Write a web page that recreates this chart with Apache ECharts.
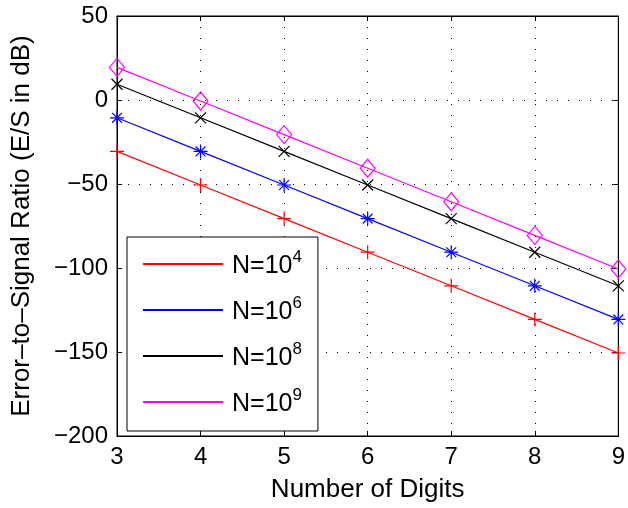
<!DOCTYPE html>
<html lang="en">
<head>
    <meta charset="utf-8">
    <title>Error-to-Signal Ratio</title>
    <script src="https://cdn.jsdelivr.net/npm/echarts@6/dist/echarts.min.js"></script>
    <style>
        html, body { margin: 0; padding: 0; background: #fff; }
    </style>
</head>
<body>
<div id="main" style="width: 628px;height:508px;"></div>
<script>
    // data
    var digits = [3, 4, 5, 6, 7, 8, 9];
    var n4 = [-30.6, -50.6, -70.6, -90.6, -110.6, -130.6, -150.6];
    var n6 = [-10.6, -30.6, -50.6, -70.6, -90.6, -110.6, -130.6];
    var n8 = [9.4, -10.6, -30.6, -50.6, -70.6, -90.6, -110.6];
    var n9 = [19.4, -0.6, -20.6, -40.6, -60.6, -80.6, -100.6];
    var exps = ['4', '6', '8', '9'];
    var colors = ['#ff0000', '#0000ff', '#000000', '#ff00ff'];

    var plus = 'path://M5,0L5,10M0,5L10,5';
    var star = 'path://M5,0L5,10M0,5L10,5M1.5,1.5L8.5,8.5M1.5,8.5L8.5,1.5';
    var cross = 'path://M0,0L10,10M0,10L10,0';
    var diamond = 'path://M5,0L10,5L5,10L0,5Z';

    var font = 'Liberation Sans, Arial, sans-serif';
    var myChart = echarts.init(document.getElementById('main'));

    function mkSeries(i, vals, sym, size) {
        return {
            name: 'N' + exps[i],
            type: 'line',
            data: digits.map(function (d, k) { return [d, vals[k]]; }),
            symbol: sym,
            symbolSize: size,
            lineStyle: {color: colors[i], width: 1.2},
            itemStyle: {color: 'none', borderColor: colors[i], borderWidth: 1.2},
            emphasis: {disabled: true},
            z: 3
        };
    }

    // matlab style dotted grid
    var dotted = {show: true, lineStyle: {color: '#000', type: [1, 10], width: 1}};
    var tick = {inside: true, length: 5, lineStyle: {color: '#000'}};
    var line = {onZero: false, lineStyle: {color: '#000', width: 1}};

    var option = {
        animation: false,
        grid: {left: 117, right: 4, top: 16, bottom: 70, show: true, borderColor: '#000', borderWidth: 1},
        xAxis: [{
            type: 'value', min: 3, max: 9, interval: 1,
            name: 'Number of Digits', nameLocation: 'middle', nameGap: 41,
            nameTextStyle: {fontFamily: font, fontSize: 26, color: '#000'},
            axisLine: line,
            axisTick: tick,
            axisLabel: {fontFamily: font, fontSize: 24, color: '#000', margin: 9},
            splitLine: dotted
        }, {
            type: 'value', min: 3, max: 9, interval: 1, position: 'top',
            axisLine: line, axisTick: tick,
            axisLabel: {show: false}, splitLine: {show: false}
        }],
        yAxis: [{
            type: 'value', min: -200, max: 50, interval: 50,
            name: 'Error\u2013to\u2013Signal Ratio (E/S in dB)', nameLocation: 'middle', nameGap: 82,
            nameTextStyle: {fontFamily: font, fontSize: 26, color: '#000'},
            axisLine: line,
            axisTick: tick,
            axisLabel: {
                fontFamily: font, fontSize: 24, color: '#000', margin: 9,
                formatter: function (v) { return v < 0 ? '\u2212' + (-v) : String(v); }
            },
            splitLine: dotted
        }, {
            type: 'value', min: -200, max: 50, interval: 50, position: 'right',
            axisLine: line, axisTick: tick,
            axisLabel: {show: false}, splitLine: {show: false}
        }],
        legend: {
            orient: 'vertical', left: 127, top: 237,
            backgroundColor: '#fff', borderColor: '#000', borderWidth: 1,
            padding: [12, 16, 14, 16], itemGap: 16,
            itemWidth: 80, itemHeight: 2,
            data: exps.map(function (e, i) {
                return {name: 'N' + e, icon: 'rect', itemStyle: {color: colors[i], borderWidth: 0}};
            }),
            formatter: function (name) { return '{a|N=10}{b|' + name.slice(1) + '}'; },
            textStyle: {
                padding: [0, 0, 0, 4],
                rich: {
                    a: {fontFamily: font, fontSize: 25, color: '#000', lineHeight: 30, verticalAlign: 'bottom'},
                    b: {fontFamily: font, fontSize: 17, color: '#000', lineHeight: 30, verticalAlign: 'top', padding: [0, 0, 12, 0]}
                }
            }
        },
        series: [
            mkSeries(0, n4, plus, 14),
            mkSeries(1, n6, star, 14),
            mkSeries(2, n8, cross, 11),
            mkSeries(3, n9, diamond, [15, 18])
        ]
    };

    myChart.setOption(option);
</script>
</body>
</html>
